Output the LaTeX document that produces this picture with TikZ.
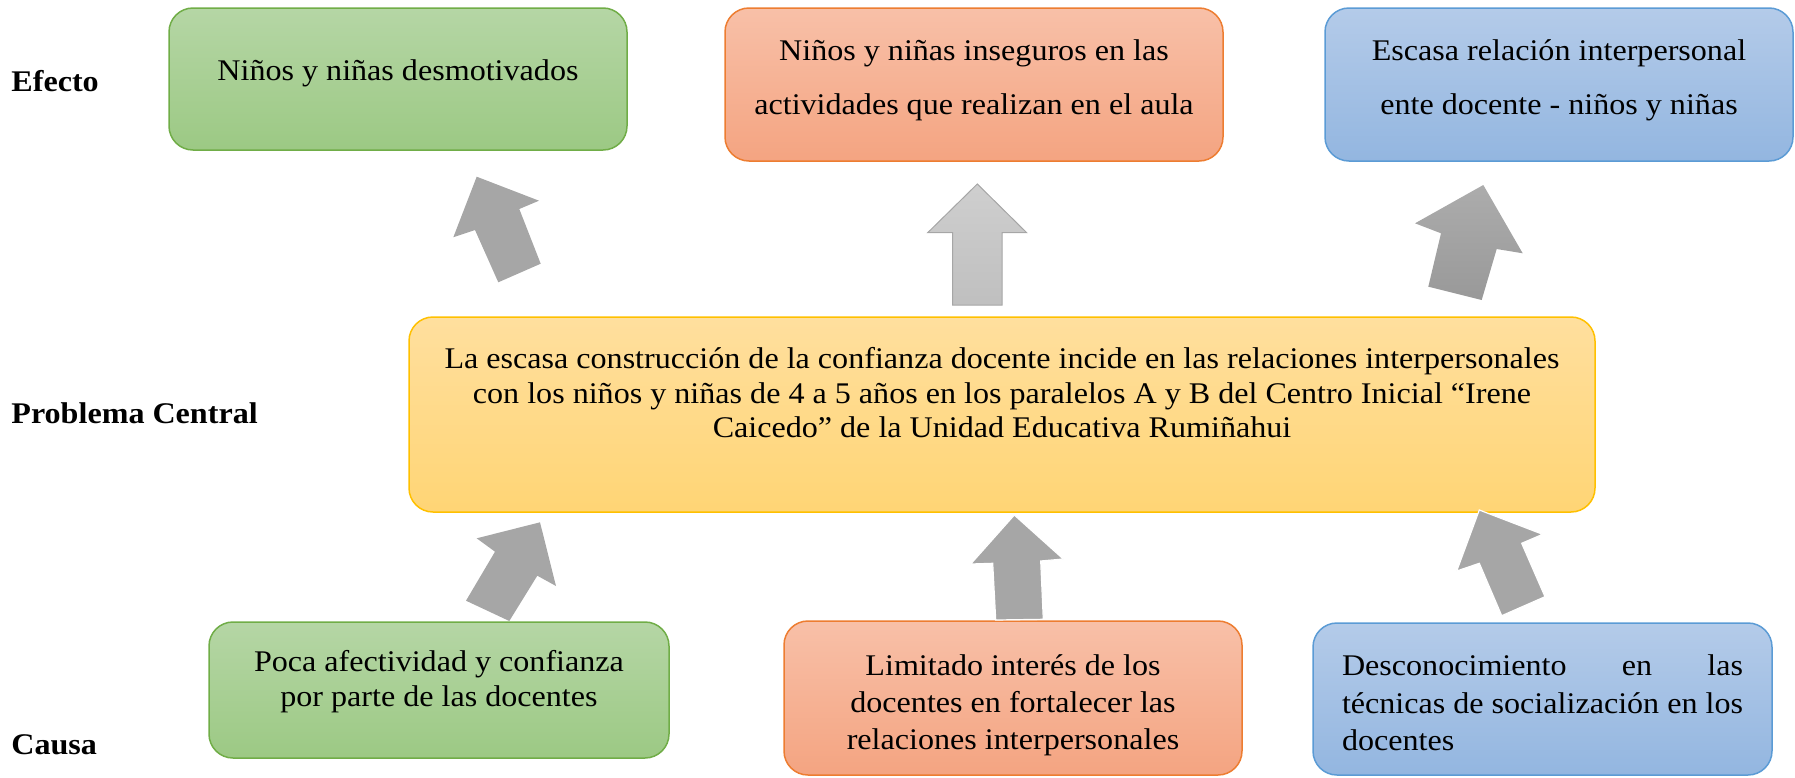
\documentclass[tikz,border=0pt]{standalone}
\usepackage{fontspec}
\setmainfont[FakeStretch=1.07]{Liberation Serif}
\usepackage{tikz}
\usetikzlibrary{positioning}
\definecolor{grnline}{HTML}{70AD47}
\definecolor{grntop}{HTML}{B5D6A5}
\definecolor{grnbot}{HTML}{9CC984}
\definecolor{orgline}{HTML}{ED7D31}
\definecolor{orgtop}{HTML}{F8C0A8}
\definecolor{orgbot}{HTML}{F4A481}
\definecolor{bluline}{HTML}{5B9BD5}
\definecolor{blutop}{HTML}{B4CBE9}
\definecolor{blubot}{HTML}{93B6E0}
\definecolor{yelline}{HTML}{FFC000}
\definecolor{yeltop}{HTML}{FFDF9E}
\definecolor{yelbot}{HTML}{FFD575}
\definecolor{arrgray}{HTML}{A6A6A6}
\tikzstyle{block}=[draw, rectangle, rounded corners=12pt, line width=0.75pt, inner sep=0pt]
\tikzstyle{grn}=[block, draw=grnline, top color=grntop, bottom color=grnbot]
\tikzstyle{org}=[block, draw=orgline, top color=orgtop, bottom color=orgbot]
\tikzstyle{blu}=[block, draw=bluline, top color=blutop, bottom color=blubot]
\tikzstyle{yel}=[block, draw=yelline, top color=yeltop, bottom color=yelbot]
\tikzstyle{txt}=[inner sep=0pt, align=center, font=\fontsize{15}{18.6}\selectfont]
\tikzstyle{lbl}=[inner sep=0pt, anchor=base west, font=\fontsize{15}{17}\selectfont\bfseries]
\tikzstyle{up}=[fill=arrgray]

\begin{document}
\begin{tikzpicture}[x=0.5pt, y=-0.5pt]
		\useasboundingbox (0,0) rectangle (1795,777);
		\node[lbl] (lE) at (11,91) {Efecto};
		\node[lbl] (lP) at (11,423) {Problema Central};
		\node[lbl] (lC) at (11,754) {Causa};
		% efectos
		\node[grn, minimum width=229pt, minimum height=71pt] (E1) at (398,79) {};
		\node[org, minimum width=249pt, minimum height=76.5pt] (E2) at (974,84.5) {};
		\node[blu, minimum width=234pt, minimum height=76.5pt] (E3) at (1559,84.5) {};
		\node[txt, below=26pt of E1.north] (tE1) {Niños y niñas desmotivados};
		\node[txt, font=\fontsize{15}{27}\selectfont, below=16pt of E2.north] (tE2) {Niños y niñas inseguros en las\\actividades que realizan en el aula};
		\node[txt, font=\fontsize{15}{27}\selectfont, below=16pt of E3.north] (tE3) {Escasa relación interpersonal\\ente docente - niños y niñas};
		% problema
		\node[yel, minimum width=593pt, minimum height=97.5pt] (P) at (1002,414.5) {};
		\node[txt, font=\fontsize{15}{17.2}\selectfont, below=15.5pt of P.north] (tP) {La escasa construcción de la confianza docente incide en las relaciones interpersonales\\con los niños y niñas de 4 a 5 años en los paralelos A y B del Centro Inicial “Irene\\Caicedo” de la Unidad Educativa Rumiñahui};
		% causas
		\node[grn, minimum width=230pt, minimum height=68pt] (C1) at (439,690) {};
		\node[org, minimum width=229pt, minimum height=77pt] (C2) at (1013,698) {};
		\node[blu, minimum width=229.5pt, minimum height=76pt] (C3) at (1542.5,699) {};
		\node[txt, font=\fontsize{15}{17.5}\selectfont, below=14.25pt of C1.north] (tC1) {Poca afectividad y confianza\\por parte de las docentes};
		\node[txt, below=16.75pt of C2.north] (tC2) {Limitado interés de los\\docentes en fortalecer las\\relaciones interpersonales};
		\node[txt, text width=200.5pt, align=justify, below=16.25pt of C3.north] (tC3) {Desconocimiento en las\linebreak técnicas de socialización en los\linebreak docentes};
		% flechas
		\fill[up] (476.7,176.7) -- (539,200.7) -- (519.3,209) -- (540.7,263.7) -- (498.3,282.3) -- (475,230) -- (453.3,237.3) -- cycle;
		\shade[top color=gray!38, bottom color=gray!50, draw=arrgray, line width=0.5pt] (977.3,184) -- (1026.7,232.7) -- (1002,232.7) -- (1002,305) -- (952.7,305) -- (952.7,232.7) -- (927.7,232.7) -- cycle;
		\shade[top color=gray!65, bottom color=gray!80] (1483.3,185) -- (1522.7,253.3) -- (1496.7,249) -- (1481.7,300) -- (1428.3,286.7) -- (1441,233.3) -- (1415,223.3) -- cycle;
		\fill[up] (540,522.3) -- (556,586) -- (537.3,575.7) -- (509.3,621) -- (466,600.7) -- (495,551.7) -- (476.7,538.3) -- cycle;
		\filldraw[up, draw=white, line width=0.6pt] (1014.3,515) -- (1063.3,559) -- (1040.7,561) -- (1043.3,619.3) -- (995.7,620) -- (992.7,563.3) -- (970.7,564) -- cycle;
		\filldraw[up, draw=white, line width=0.6pt] (1479.3,510) -- (1542.7,534.3) -- (1521.7,543.3) -- (1545,596.7) -- (1501.7,615.7) -- (1479.3,563.3) -- (1456.7,571) -- cycle;
	\end{tikzpicture}
\end{document}
